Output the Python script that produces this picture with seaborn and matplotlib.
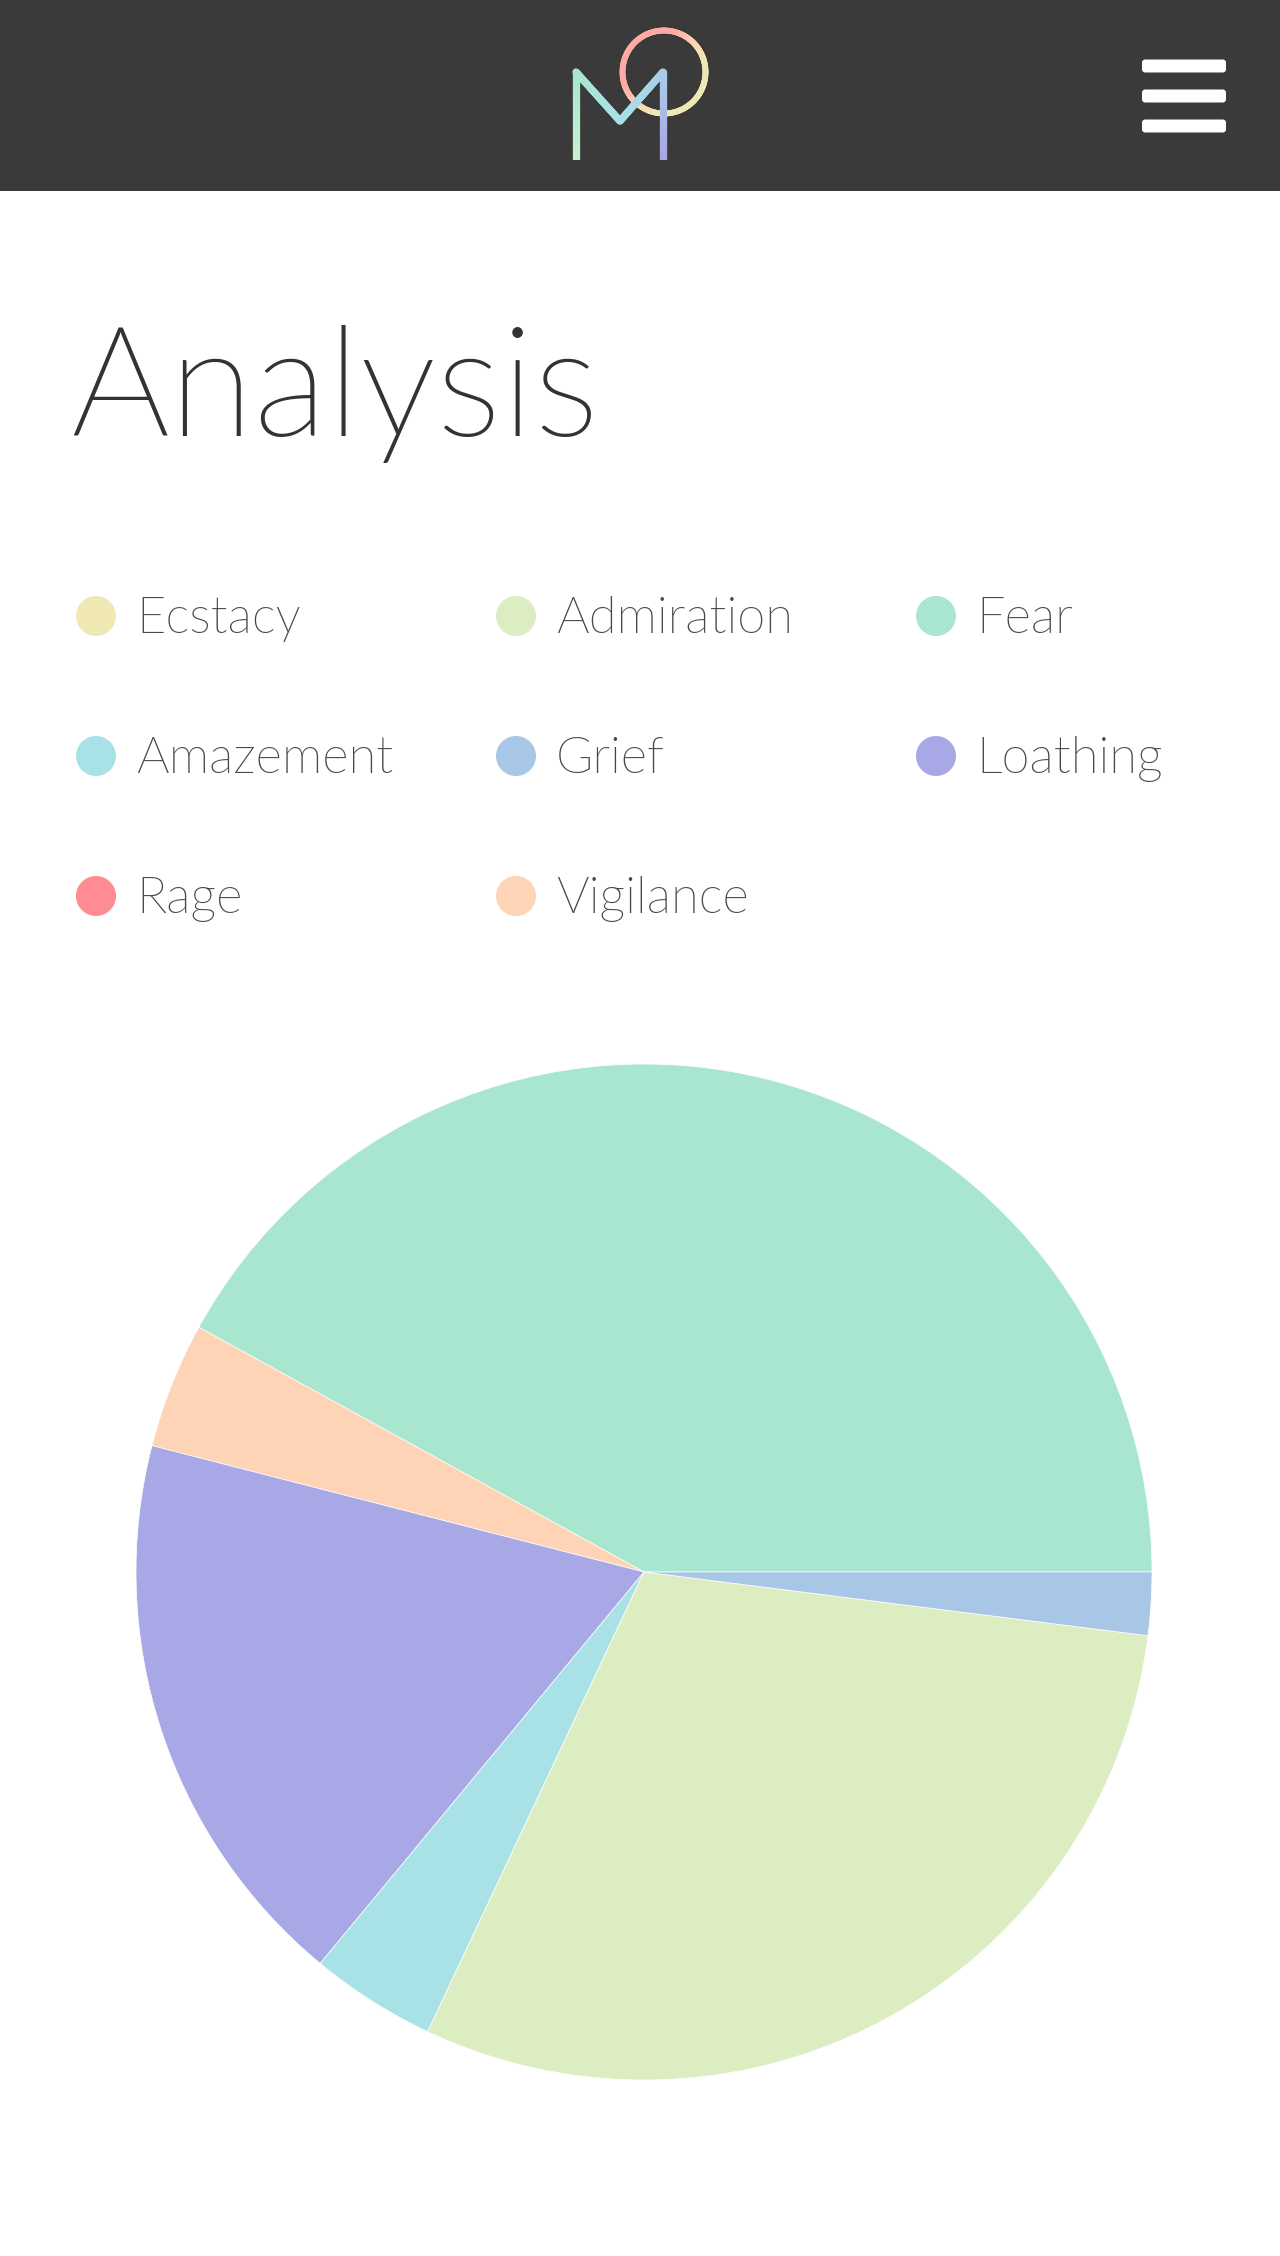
import numpy as np
import matplotlib
matplotlib.use("Agg")
import matplotlib.pyplot as plt
import seaborn as sns
from matplotlib import font_manager
from matplotlib.font_manager import FontProperties
from matplotlib.patches import Rectangle, FancyBboxPatch, Circle
from matplotlib.collections import LineCollection
from matplotlib.colors import LinearSegmentedColormap

# ---- data ----
legend_labels = ["Ecstacy", "Admiration", "Fear", "Amazement", "Grief", "Loathing", "Rage", "Vigilance"]
legend_colors = ["#F0E8B4", "#DCEDC1", "#A8E6CF", "#A8E2E6", "#A8C6E6", "#A8A8E6", "#FF8B94", "#FFD3B6"]
values = {"Ecstacy": 0, "Admiration": 15, "Fear": 21, "Amazement": 2,
          "Grief": 1, "Loathing": 9, "Rage": 0, "Vigilance": 2}
pie_order = ["Fear", "Vigilance", "Loathing", "Amazement", "Admiration", "Grief", "Ecstacy", "Rage"]

sns.set_theme(style="white")
plt.rcParams['font.family'] = ['Lato', 'DejaVu Sans']


def find_font(family, keyword, exclude=()):
    for f in font_manager.fontManager.ttflist:
        base = f.fname.split("/")[-1].lower()
        if f.name == family and keyword.lower() in base and not any(e in base for e in exclude):
            return FontProperties(fname=f.fname)
    return None


light = find_font("Lato", "light", exclude=("italic",))
if light is None:
    light = FontProperties(family="Lato", weight="normal")
regular = find_font("Raleway", "regular") or find_font("Lato", "light", exclude=("italic",)) \
    or FontProperties(family="Lato")

W, H = 1280, 2256
fig = plt.figure(figsize=(W / 100, H / 100), dpi=100)
fig.patch.set_facecolor("white")

bg = fig.add_axes([0, 0, 1, 1])
bg.set_xlim(0, W)
bg.set_ylim(H, 0)
bg.axis("off")

# header
bg.add_patch(Rectangle((0, 0), W, 191, facecolor="#3A3A3A", edgecolor="none"))

# hamburger
for y0 in (59.5, 89.5, 119.5):
    bg.add_patch(FancyBboxPatch((1145, y0 + 3), 78, 7, boxstyle="round,pad=3,rounding_size=3.5",
                                facecolor="white", edgecolor="none"))

# logo circle with gradient
circ_cmap = LinearSegmentedColormap.from_list("c", ["#FFAAA5", "#FFAAA5", "#FFD3B6", "#F0E8B4", "#F0E8B4"])
t = np.linspace(0, 2 * np.pi, 300)
cx, cy, cr = 664, 72, 41.5
px = cx + cr * np.cos(t)
py = cy + cr * np.sin(t)
pts = np.array([px, py]).T.reshape(-1, 1, 2)
segs = np.concatenate([pts[:-1], pts[1:]], axis=1)
proj = ((px[:-1] - cx) + (py[:-1] - cy)) / (2 * cr * 1.414) + 0.5
bg.add_collection(LineCollection(segs, colors=circ_cmap(np.clip(proj, 0, 1)),
                                 linewidths=4.2, capstyle="round"))

# logo M with gradient
m_cmap = LinearSegmentedColormap.from_list("m", ["#C9F2D2", "#A8E6CF", "#A8E2E6", "#A8D0E6", "#A8A8E6"])
mx = np.array([576, 576, 620, 663, 663])
my = np.array([160, 72, 121, 72, 160])
xs, ys = [], []
for i in range(4):
    s = np.linspace(0, 1, 80)
    xs.append(mx[i] + (mx[i + 1] - mx[i]) * s)
    ys.append(my[i] + (my[i + 1] - my[i]) * s)
xs = np.concatenate(xs)
ys = np.concatenate(ys)
pts = np.array([xs, ys]).T.reshape(-1, 1, 2)
segs = np.concatenate([pts[:-1], pts[1:]], axis=1)
pos = np.linspace(0, 1, len(segs))
bg.add_collection(LineCollection(segs, colors=m_cmap(pos), linewidths=5.2, capstyle="round"))
bg.add_patch(Rectangle((560, 160), 120, 10, facecolor="#3A3A3A", edgecolor="none", zorder=5))

# title
bg.text(70, 436, "Analysis", fontproperties=light, fontsize=111, color="#333333",
        ha="left", va="baseline")

# legend
col_x = [96, 516, 936]
row_y = [616, 756, 896]
for i, (lab, colr) in enumerate(zip(legend_labels, legend_colors)):
    r, c = divmod(i, 3)
    x, y = col_x[c], row_y[r]
    bg.add_patch(Circle((x, y), 20, facecolor=colr, edgecolor="none"))
    bg.text(x + 40, y + 17, lab, fontproperties=regular, fontsize=36.5, color="#484848",
            ha="left", va="baseline")

# pie
pcx, pcy, pr = 644, 1572, 508
ax = fig.add_axes([(pcx - pr) / W, (H - pcy - pr) / H, 2 * pr / W, 2 * pr / H])
cmap = dict(zip(legend_labels, legend_colors))
names = [n for n in pie_order if values[n] > 0]
ax.pie([values[n] for n in names], colors=[cmap[n] for n in names], startangle=0,
       counterclock=True, radius=1,
       wedgeprops=dict(edgecolor="white", linewidth=0.5))
ax.set_xlim(-1.0, 1.0)
ax.set_ylim(-1.0, 1.0)
ax.set_aspect("equal")
ax.axis("off")

fig.savefig("out.png", dpi=100, facecolor="white")
